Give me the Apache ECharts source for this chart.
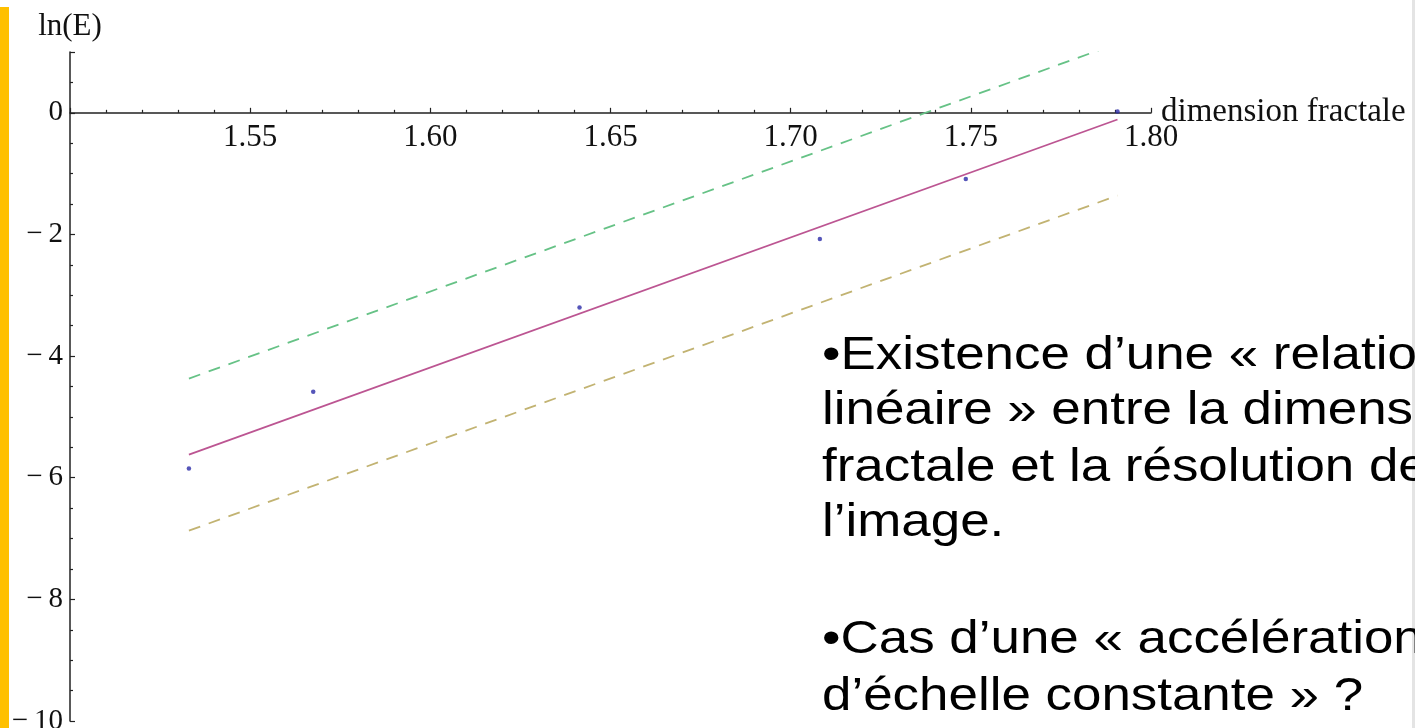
<!DOCTYPE html>
<html>
<head>
<meta charset="utf-8">
<script src="https://cdn.jsdelivr.net/npm/echarts@6/dist/echarts.min.js"></script>
<style>
html,body{margin:0;padding:0;background:#ffffff;}
#chart{width:1415px;height:728px;}
</style>
</head>
<body>
<div id="chart"></div>
<script>
// Data
const fractalDim = [1.533, 1.5675, 1.6414, 1.7081, 1.7486, 1.7907];
const lnE = [-5.85, -4.585, -3.20, -2.076, -1.087, 0.02];
const fitX = [1.533, 1.7907];
const fitY = [-5.62, -0.11];
const upperY = [-4.37, 1.14];
const lowerY = [-6.87, -1.36];
const xTickLabels = ['1.55', '1.60', '1.65', '1.70', '1.75', '1.80'];
const textLines = [
  '•Existence d’une « relation',
  'linéaire » entre la dimension',
  'fractale et la résolution de',
  'l’image.',
  '•Cas d’une « accélération',
  'd’échelle constante » ?'
];

const pairs = (xs, ys) => xs.map((x, i) => [x, ys[i]]);
const serif = '"Liberation Serif", "DejaVu Serif", serif';
const baselines = [379, 434, 491, 546, 663, 720];

const gridTop = 52, gridBottom = 7, H = 728;
const yMin = -10, yMax = 1;
const plotH = H - gridTop - gridBottom;
const zeroOffset = -(plotH * (0 - yMin) / (yMax - yMin));

const chart = echarts.init(document.getElementById('chart'), null, {renderer: 'canvas'});
const option = {
  backgroundColor: '#ffffff',
  animation: false,
  grid: {left: 70, right: 264, top: gridTop, bottom: gridBottom, containLabel: false, outerBoundsMode: 'none'},
  xAxis: {
    type: 'value', min: 1.5, max: 1.8, interval: 0.05,
    position: 'bottom', offset: zeroOffset,
    name: 'dimension fractale', nameLocation: 'end', nameGap: 10, nameMoveOverlap: false,
    nameTextStyle: {fontFamily: serif, fontSize: 33, color: '#111', verticalAlign: 'middle', padding: [0, 0, 3, 0]},
    axisLine: {onZero: false, lineStyle: {color: '#222', width: 1.5}},
    axisTick: {inside: true, length: 5, lineStyle: {color: '#222', width: 1.2}},
    minorTick: {show: true, splitNumber: 5, length: 3, lineStyle: {color: '#222', width: 1.2}},
    axisLabel: {
      fontFamily: serif, fontSize: 31, color: '#111', margin: 10,
      formatter: v => {
        const s = v.toFixed(2);
        return xTickLabels.indexOf(s) >= 0 ? s : '';
      }
    },
    splitLine: {show: false}
  },
  yAxis: {
    type: 'value', min: yMin, max: yMax, interval: 2,
    name: 'ln(E)', nameLocation: 'end', nameGap: 10, nameMoveOverlap: false,
    nameTextStyle: {fontFamily: serif, fontSize: 31, color: '#111'},
    axisLine: {show: true, onZero: false, lineStyle: {color: '#222', width: 1.5}},
    axisTick: {show: true, inside: true, length: 5, lineStyle: {color: '#222', width: 1.2}},
    minorTick: {show: true, splitNumber: 4, length: 3, lineStyle: {color: '#222', width: 1.2}},
    axisLabel: {
      fontFamily: serif, fontSize: 29, color: '#111', margin: 7,
      formatter: v => v > 0 ? '' : (v < 0 ? '\u2212\u2009' + (-v) : String(v))
    },
    splitLine: {show: false}
  },
  series: [
    {type: 'line', data: pairs(fitX, upperY), symbol: 'none', clip: true,
     lineStyle: {color: '#66c286', width: 1.8, type: [12, 9]}},
    {type: 'line', data: pairs(fitX, lowerY), symbol: 'none', clip: true,
     lineStyle: {color: '#c2b372', width: 1.8, type: [12, 9]}},
    {type: 'line', data: pairs(fitX, fitY), symbol: 'none', clip: true,
     lineStyle: {color: '#bc5592', width: 1.8}},
    {type: 'scatter', data: pairs(fractalDim, lnE), symbolSize: 4.5,
     itemStyle: {color: '#2a2aa8'}}
  ],
  graphic: [
    {type: 'rect', left: 0, top: 7, shape: {width: 9, height: 721}, style: {fill: '#ffc000'}, z: 10},
    {type: 'rect', left: 1412, top: 0, shape: {width: 3, height: 728}, style: {fill: '#e4e4e4'}, z: 10}
  ].concat(textLines.map((t, i) => ({
    type: 'text', x: 822, y: baselines[i], scaleX: 1.15, originX: 0, originY: 0, z: 10,
    style: {text: t, fontFamily: '"Liberation Sans", Arial, sans-serif', fontSize: 46,
            fill: '#000', verticalAlign: 'bottom', align: 'left'}
  })))
};
chart.setOption(option);
</script>
</body>
</html>
